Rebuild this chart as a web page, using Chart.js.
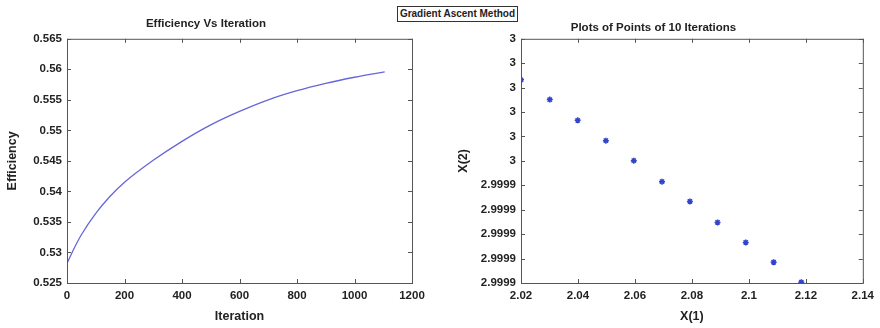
<!DOCTYPE html>
<html>
<head>
<meta charset="utf-8">
<script src="https://cdn.jsdelivr.net/npm/chart.js@4.4.1/dist/chart.umd.min.js"></script>
<style>
    body { margin: 0; background: #fff; }
    #wrap { position: relative; width: 880px; height: 328px; }
    .box { position: absolute; top: 0; width: 440px; height: 328px; }
    #legendBox {
        position: absolute; left: 397px; top: 6px; width: 119px; height: 14px;
        border: 1px solid #333; background: #fff;
        font: bold 10px "Liberation Sans", Arial, sans-serif; color: #222;
        line-height: 14px; text-align: center;
    }
</style>
</head>
<body>
<div id="wrap">
    <div class="box" style="left:0"><canvas id="effChart" width="440" height="328"></canvas></div>
    <div class="box" style="left:440px"><canvas id="ptsChart" width="440" height="328"></canvas></div>
    <div id="legendBox">Gradient Ascent Method</div>
</div>
<script>
// Efficiency vs iteration
var iterations = [0, 25, 50, 100, 150, 200, 300, 400, 500, 600, 700, 800, 900, 1000, 1105];
var efficiency = [0.5282, 0.5307, 0.5329, 0.5364, 0.5392, 0.5415, 0.5451, 0.5482, 0.5509, 0.5531, 0.5550, 0.5565, 0.5577, 0.5587, 0.5596];

// Points of the 10 iterations
var pointsX1 = [2.02, 2.0301, 2.0399, 2.0498, 2.0596, 2.0695, 2.0793, 2.089, 2.0989, 2.1087, 2.1184];
var pointsX2 = [2.9999832, 2.9999751, 2.9999666, 2.9999583, 2.9999501, 2.9999415, 2.9999334, 2.9999248, 2.9999166, 2.9999085, 2.9999003];

// Tick values for the right plot's y axis
var x2Ticks = [2.9999, 2.99991, 2.99992, 2.99993, 2.99994, 2.99995, 2.99996, 2.99997, 2.99998, 2.99999, 3.0];

var FONT = '"Liberation Sans", Arial, sans-serif';
Chart.defaults.font.family = FONT;
Chart.defaults.color = '#222';

// MATLAB style box with inward ticks on all four sides
var boxPlugin = {
    id: 'matlabBox',
    afterDraw: function(chart) {
        var ctx = chart.ctx;
        var a = chart.chartArea;
        var xs = chart.scales.x, ys = chart.scales.y;
        ctx.save();
        ctx.strokeStyle = '#555';
        ctx.lineWidth = 1;
        ctx.strokeRect(a.left + 0.5, a.top + 0.5, a.right - a.left, a.bottom - a.top);
        ctx.beginPath();
        xs.ticks.forEach(function(t, i) {
            var px = Math.round(xs.getPixelForTick(i)) + 0.5;
            ctx.moveTo(px, a.bottom); ctx.lineTo(px, a.bottom - 4);
            ctx.moveTo(px, a.top); ctx.lineTo(px, a.top + 4);
        });
        ys.ticks.forEach(function(t, i) {
            var py = Math.round(ys.getPixelForTick(i)) + 0.5;
            ctx.moveTo(a.left, py); ctx.lineTo(a.left + 4, py);
            ctx.moveTo(a.right, py); ctx.lineTo(a.right - 4, py);
        });
        ctx.stroke();
        ctx.restore();
    }
};

function axisTitle(text, pad) {
    return { display: true, text: text, color: '#222', font: { size: 12.5, weight: 'bold' }, padding: pad };
}

var tickFont = { size: 11.5, weight: 'bold' };

new Chart(document.getElementById('effChart'), {
    type: 'line',
    data: {
        datasets: [{
            data: iterations.map(function(v, i) { return { x: v, y: efficiency[i] }; }),
            borderColor: '#6666d8',
            borderWidth: 1.3,
            pointRadius: 0,
            cubicInterpolationMode: 'monotone',
            fill: false
        }]
    },
    options: {
        responsive: false,
        animation: false,
        layout: { padding: { left: 0, right: 28, top: 0, bottom: 0 } },
        plugins: {
            legend: { display: false },
            tooltip: { enabled: false },
            title: {
                display: true, text: 'Efficiency Vs Iteration', color: '#222',
                font: { size: 11.5, weight: 'bold' }, padding: { top: 17, bottom: 8 }
            }
        },
        scales: {
            x: {
                type: 'linear', min: 0, max: 1200,
                ticks: {
                    stepSize: 200, padding: 6, font: tickFont, maxRotation: 0,
                    callback: function(v) { return String(v); }
                },
                grid: { display: false, drawTicks: false },
                border: { display: false },
                title: axisTitle('Iteration', { top: 0, bottom: 4 }),
                afterFit: function(s) { s.height = 45; }
            },
            y: {
                min: 0.525, max: 0.565,
                ticks: {
                    stepSize: 0.005, padding: 5, font: tickFont,
                    callback: function(v) { return String(Number(v.toFixed(3))); }
                },
                grid: { display: false, drawTicks: false },
                border: { display: false },
                title: axisTitle('Efficiency', { top: 5, bottom: 0 }),
                afterFit: function(s) { s.width = 67; }
            }
        }
    },
    plugins: [boxPlugin]
});

new Chart(document.getElementById('ptsChart'), {
    type: 'scatter',
    data: {
        datasets: [{
            data: pointsX1.map(function(v, i) { return { x: v, y: pointsX2[i] }; }),
            pointStyle: 'star',
            radius: 3,
            borderColor: '#3344cc',
            backgroundColor: '#3344cc',
            borderWidth: 1.5
        }]
    },
    options: {
        responsive: false,
        animation: false,
        layout: { padding: { left: 0, right: 13, top: 0, bottom: 0 } },
        plugins: {
            legend: { display: false },
            tooltip: { enabled: false },
            title: {
                display: true, text: 'Plots of Points of 10 Iterations', color: '#222',
                font: { size: 11.5, weight: 'bold' }, padding: { top: 21, bottom: 4 }
            }
        },
        scales: {
            x: {
                type: 'linear', min: 2.02, max: 2.14,
                ticks: {
                    stepSize: 0.02, padding: 6, font: tickFont, maxRotation: 0,
                    callback: function(v) { return String(Number(v.toFixed(2))); }
                },
                grid: { display: false, drawTicks: false },
                border: { display: false },
                title: axisTitle('X(1)', { top: 0, bottom: 4 }),
                afterFit: function(s) { s.height = 45; }
            },
            y: {
                min: 2.9999, max: 3.0,
                afterBuildTicks: function(s) { s.ticks = x2Ticks.map(function(v) { return { value: v }; }); },
                ticks: {
                    padding: 5, font: tickFont,
                    callback: function(v) { return String(Number(Number(v).toPrecision(5))); }
                },
                grid: { display: false, drawTicks: false },
                border: { display: false },
                title: axisTitle('X(2)', { top: 16, bottom: 0 }),
                afterFit: function(s) { s.width = 81; }
            }
        }
    },
    plugins: [boxPlugin]
});
</script>
</body>
</html>
